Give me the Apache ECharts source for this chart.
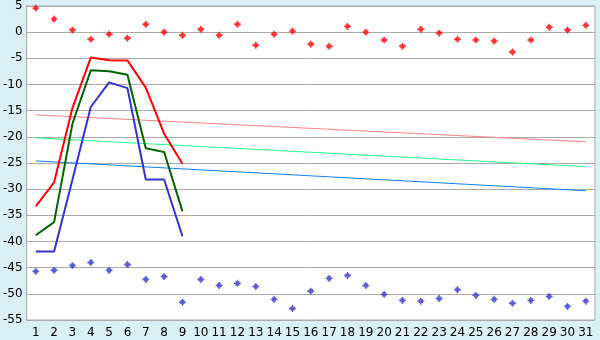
<!DOCTYPE html>
<html><head><meta charset="utf-8">
<script src="https://cdn.jsdelivr.net/npm/echarts@6/dist/echarts.min.js"></script>
<style>html,body{margin:0;padding:0;background:#daf0f7;}#c{width:600px;height:340px;}</style>
</head><body><div id="c"></div>
<script>
const categories = Array.from({length:31},(_,i)=>String(i+1));
const redPoints = [4.6,2.5,0.4,-1.35,-0.4,-1.15,1.5,0,-0.6,0.55,-0.6,1.5,-2.5,-0.4,0.2,-2.3,-2.7,1.1,0,-1.5,-2.7,0.55,-0.2,-1.35,-1.5,-1.7,-3.8,-1.5,0.95,0.4,1.3];
const bluePoints = [-45.7,-45.5,-44.6,-44.0,-45.5,-44.4,-47.25,-46.7,-51.6,-47.25,-48.4,-48.0,-48.6,-51.05,-52.8,-49.5,-47.05,-46.5,-48.4,-50.1,-51.25,-51.4,-50.9,-49.2,-50.3,-51.05,-51.8,-51.25,-50.5,-52.4,-51.4];
const redLine = [-33.3,-28.7,-14.5,-4.85,-5.35,-5.4,-10.6,-19.4,-25.15];
const greenLine = [-38.8,-36.3,-17.5,-7.3,-7.45,-8.15,-22.2,-22.9,-34.25];
const blueLine = [-41.9,-41.9,-28.2,-14.3,-9.6,-10.7,-28.15,-28.15,-39.0];
const pinkTrend = [-15.8, -20.96];
const greenTrend = [-20.2, -25.7];
const blueTrend = [-24.6, -30.3];
const yTicks = {min:-55, max:5, interval:5};

function trend(ends){ const a = new Array(31).fill(null); a[0]=ends[0]; a[30]=ends[1]; return a; }
const plusMark = 'path://M2,0H3V1H4V2H5V3H4V4H3V5H2V4H1V3H0V2H1V1H2Z';
const chart = echarts.init(document.getElementById('c'));
const font = {fontFamily:'DejaVu Sans', fontSize:12, color:'#000'};
chart.setOption({
  backgroundColor:'#daf0f7',
  animation:false,
  grid:{left:26,right:5,top:5,bottom:20,show:true,backgroundColor:'#fff',borderColor:'#aaa',borderWidth:1},
  xAxis:{type:'category',data:categories,boundaryGap:true,
    axisLine:{lineStyle:{color:'#aaa'}},
    axisTick:{alignWithLabel:true,length:5,lineStyle:{color:'#555'}},
    axisLabel:Object.assign({margin:7,interval:0},font),
    splitLine:{show:false}},
  yAxis:{type:'value',min:yTicks.min,max:yTicks.max,interval:yTicks.interval,
    axisLine:{show:true,lineStyle:{color:'#aaa'}},axisTick:{show:false},
    axisLabel:Object.assign({margin:4},font),
    splitLine:{lineStyle:{color:'#aaa',width:1}}},
  series:[
    {type:'line',data:trend(pinkTrend),connectNulls:true,symbol:'none',lineStyle:{color:'#ff8080',width:1}},
    {type:'line',data:trend(greenTrend),connectNulls:true,symbol:'none',lineStyle:{color:'#22ff88',width:1}},
    {type:'line',data:trend(blueTrend),connectNulls:true,symbol:'none',lineStyle:{color:'#0a80ff',width:1}},
    {type:'line',data:redLine,symbol:'none',lineStyle:{color:'#ff0000',width:2}},
    {type:'line',data:greenLine,symbol:'none',lineStyle:{color:'#006400',width:2}},
    {type:'line',data:blueLine,symbol:'none',lineStyle:{color:'#3333cc',width:2}},
    {type:'scatter',data:redPoints,symbol:plusMark,symbolSize:7,itemStyle:{color:'#ff0000'}},
    {type:'scatter',data:bluePoints,symbol:plusMark,symbolSize:7,itemStyle:{color:'#3333cc'}}
  ]
});
</script></body></html>
